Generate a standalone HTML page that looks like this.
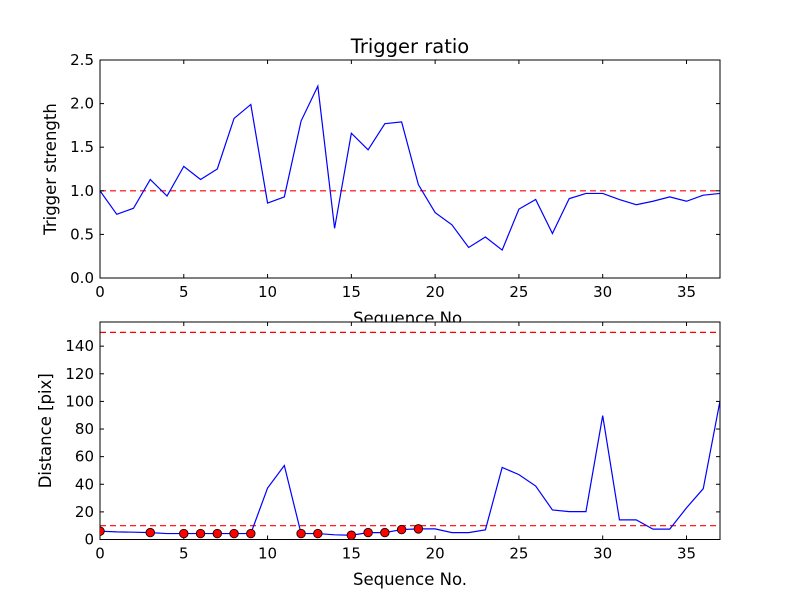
<!DOCTYPE html>
<html><head><meta charset="utf-8"><style>
body{margin:0;background:#fff;}
svg{display:block;font-family:"DejaVu Sans","Liberation Sans",sans-serif;}
</style></head><body>
<svg id="chart" width="800" height="600" viewBox="0 0 800 600">
<rect width="800" height="600" fill="#fff"/>
</svg>
<script>
const seq = [];
for (let i = 0; i <= 37; i++) seq.push(i);
const triggerStrength = [1.0,0.73,0.80,1.13,0.94,1.28,1.13,1.25,1.83,1.99,0.86,0.93,1.80,2.20,0.57,1.66,1.47,1.77,1.79,1.07,0.75,0.61,0.35,0.47,0.32,0.79,0.90,0.51,0.91,0.97,0.97,0.90,0.84,0.88,0.93,0.88,0.95,0.97];
const distance = [6,5.5,5.3,5,4.3,4.3,4.3,4.3,4.3,4.3,37.3,53.6,4.3,4.3,3.4,3.1,5,5,7.2,7.7,7.7,5,5,7,52.2,47,38.7,21.4,20.2,20.2,89.7,14.2,14.2,7.5,7.5,22.9,36.8,100.3];
const markedIdx = [0,3,5,6,7,8,9,12,13,15,16,17,18,19];
const xTicks = [0,5,10,15,20,25,30,35];
const topYTicks = ["0.0","0.5","1.0","1.5","2.0","2.5"];
const botYTicks = [0,20,40,60,80,100,120,140];
const topThreshold = [1.0];
const botThresholds = [10,150];

const NS = "http://www.w3.org/2000/svg";
const svg = document.getElementById('chart');
function el(tag, attrs, parent){const e=document.createElementNS(NS,tag);for(const k in attrs)e.setAttribute(k,attrs[k]);(parent||svg).appendChild(e);return e;}

const L=100,R=720;
const xS = v => L + (v-0)/(37-0)*(R-L);

function panel(name, top, bot, ymax, yTicks, values, thresholds, ylabel, ylabelX){
  const yS = v => bot - v/ymax*(bot-top);
  const g = el('g',{});
  
  
  const bg = el('rect',{x:L,y:top,width:R-L,height:bot-top,fill:'#fff'},g);
  
  
  thresholds.forEach(t=>{
    const ln = el('line',{x1:L,x2:R,y1:yS(t),y2:yS(t),stroke:'#ff0000','stroke-width':1.2,'stroke-dasharray':'6,4'},g);
    
    
  });
  const cid = name+'-clip';
  const cp = el('clipPath',{id:cid},g); el('rect',{x:L,y:top,width:R-L,height:bot-top},cp);
  const pts = values.map((v,i)=>xS(seq[i]).toFixed(2)+','+yS(v).toFixed(2)).join(' ');
  const pl = el('polyline',{points:pts,fill:'none',stroke:'#0000ff','stroke-width':1.2,'clip-path':'url(#'+cid+')'},g);
  
  
  const fr = el('rect',{x:L,y:top,width:R-L,height:bot-top,fill:'none',stroke:'#000','stroke-width':1},g);
  
  
  xTicks.forEach(t=>{
    const x=xS(t);
    el('line',{x1:x,x2:x,y1:bot,y2:bot-4,stroke:'#000'},g);
    el('line',{x1:x,x2:x,y1:top,y2:top+4,stroke:'#000'},g);
    const tx = el('text',{x:x,y:bot+19,'font-size':15,'text-anchor':'middle',fill:'#000'},g);
    tx.textContent=t;
    
    
  });
  yTicks.forEach(t=>{
    const y=yS(parseFloat(t));
    el('line',{x1:L,x2:L+4,y1:y,y2:y,stroke:'#000'},g);
    el('line',{x1:R,x2:R-4,y1:y,y2:y,stroke:'#000'},g);
    const tx = el('text',{x:L-6,y:y+5,'font-size':15,'text-anchor':'end',fill:'#000'},g);
    tx.textContent=t;
    
    
  });
  const yl = el('text',{x:ylabelX,y:(top+bot)/2,'font-size':16.5,'text-anchor':'middle',transform:'rotate(-90 '+ylabelX+' '+(top+bot)/2+')'},g);
  yl.textContent=ylabel;
  
  
  return {g,yS};
}

const xl1 = el('text',{x:410,y:324,'font-size':16.5,'text-anchor':'middle'});
xl1.textContent='Sequence No.';



const topP = panel('top',60,278,2.5,topYTicks,triggerStrength,topThreshold,'Trigger strength',56);
const botP = panel('bottom',322,539.5,157.5,botYTicks.map(String),distance,botThresholds,'Distance [pix]',51);

markedIdx.forEach(i=>{
  const c = el('circle',{cx:xS(seq[i]),cy:botP.yS(distance[i]),r:4.3,fill:'#ff0000',stroke:'#000','stroke-width':0.8,'clip-path':'url(#bottom-clip)'},botP.g);
  
  
});

const title = el('text',{x:410,y:53,'font-size':19.5,'text-anchor':'middle'});
title.textContent='Trigger ratio';



const xl2 = el('text',{x:410,y:585,'font-size':16.5,'text-anchor':'middle'});
xl2.textContent='Sequence No.';


</script>
</body></html>
